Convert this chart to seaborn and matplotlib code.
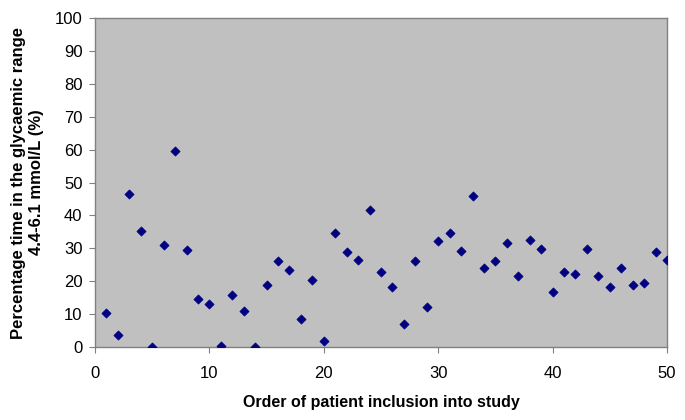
import numpy as np
import pandas as pd
import matplotlib
matplotlib.use("Agg")
import matplotlib.pyplot as plt
import seaborn as sns

order = list(range(1, 51))
pct_time = [10.3, 3.8, 46.5, 35.3, 0.0, 31.1, 59.7, 29.5, 14.5, 13.2,
            0.3, 15.7, 11.0, 0.0, 19.0, 26.2, 23.4, 8.4, 20.5, 1.9,
            34.6, 28.9, 26.3, 41.6, 22.8, 18.3, 7.1, 26.2, 12.2, 32.3,
            34.6, 29.2, 45.9, 24.1, 26.0, 31.7, 21.5, 32.6, 29.8, 16.8,
            22.9, 22.2, 29.8, 21.7, 18.3, 24.0, 19.0, 19.6, 28.8, 26.6]
xticks = [0, 10, 20, 30, 40, 50]
yticks = list(range(0, 101, 10))

df = pd.DataFrame({"order": order, "pct": pct_time})

sns.set_style("ticks")
plt.rcParams['font.family'] = ['Liberation Sans', 'DejaVu Sans']
plt.rcParams['text.color'] = 'black'
plt.rcParams['axes.labelcolor'] = 'black'

fig = plt.figure(figsize=(6.85, 4.2), dpi=100)
ax = fig.add_axes([0.1387, 0.1738, 0.835, 0.7832])
ax.set_facecolor('#c0c0c0')

sns.scatterplot(data=df, x="order", y="pct", ax=ax, marker='D', s=22,
                color='#000080', edgecolor='#000080', linewidth=0.5, zorder=3)

ax.set_xlim(0, 50)
ax.set_ylim(0, 100)
ax.set_xticks(xticks)
ax.set_yticks(yticks)
ax.tick_params(axis='both', labelsize=12, length=4, color='#808080',
               labelcolor='black', direction='out')
ax.tick_params(axis='x', pad=10)
ax.tick_params(axis='y', pad=5)
for sp in ax.spines.values():
    sp.set_color('#808080')
    sp.set_linewidth(1)

ax.set_xlabel("Order of patient inclusion into study", fontsize=11.5, fontweight='bold', labelpad=10)
ax.set_ylabel("Percentage time in the glycaemic range\n4.4-6.1 mmol/L (%)", fontsize=12,
              fontweight='bold', labelpad=8)

fig.savefig("out.png", dpi=100)
